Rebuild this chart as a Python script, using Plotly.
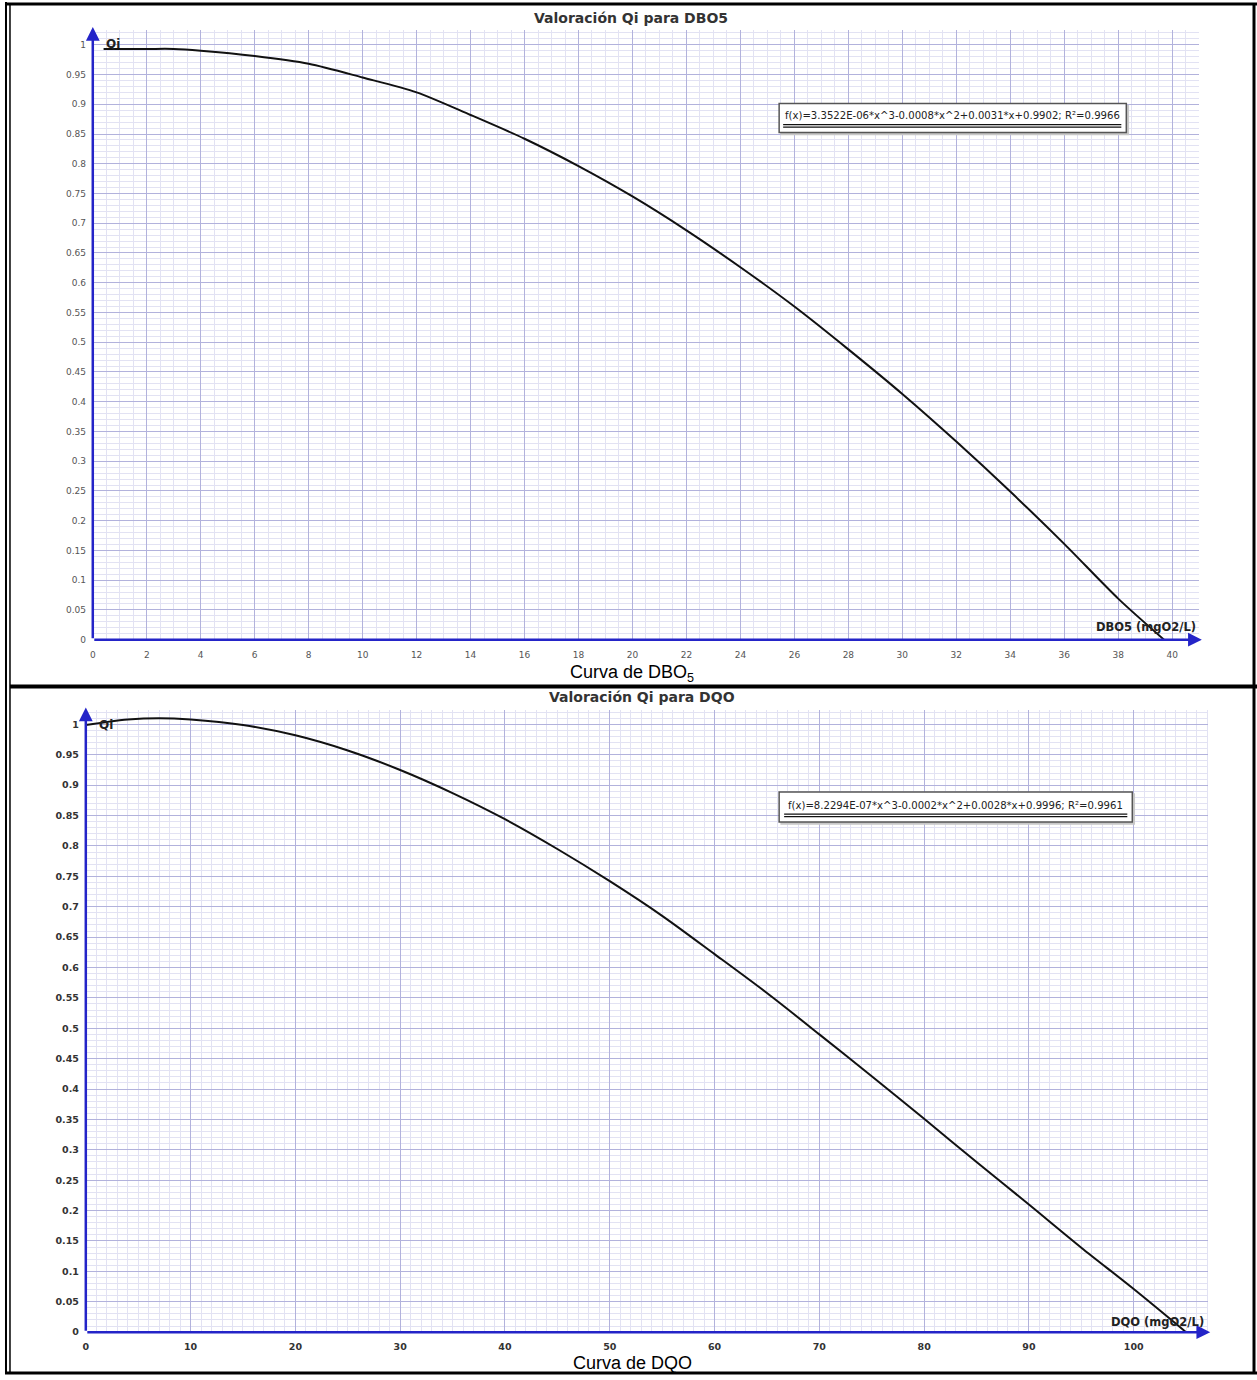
import plotly.graph_objects as go

W, H = 1257, 1380

# Curva de DBO5
dbo_x = [0.4, 2, 3, 4, 6, 8, 10, 12, 14, 16, 18, 20, 22, 24, 26, 28, 30, 32, 34, 36, 38, 39.7]
dbo_qi = [0.993, 0.993, 0.993, 0.99, 0.981, 0.968, 0.945, 0.920, 0.882, 0.842, 0.796, 0.745,
          0.688, 0.626, 0.560, 0.488, 0.413, 0.333, 0.249, 0.161, 0.069, 0.0]

# Curva de DQO
dqo_x = [0, 2, 4, 7, 10, 15, 20, 25, 30, 35, 40, 45, 50, 55, 60, 65, 70, 75, 80, 85, 90, 95, 100, 105]
dqo_qi = [0.999, 1.004, 1.008, 1.010, 1.008, 0.999, 0.982, 0.957, 0.925, 0.887, 0.844, 0.795,
          0.742, 0.685, 0.622, 0.558, 0.490, 0.421, 0.351, 0.280, 0.210, 0.139, 0.071, 0.0]

dbo_ticks = [0, 2, 4, 6, 8, 10, 12, 14, 16, 18, 20, 22, 24, 26, 28, 30, 32, 34, 36, 38, 40]
dqo_ticks = [0, 10, 20, 30, 40, 50, 60, 70, 80, 90, 100]
qi_ticks = [0, 0.05, 0.1, 0.15, 0.2, 0.25, 0.3, 0.35, 0.4, 0.45, 0.5,
            0.55, 0.6, 0.65, 0.7, 0.75, 0.8, 0.85, 0.9, 0.95, 1]
qi_labels = ["0", "0.05", "0.1", "0.15", "0.2", "0.25", "0.3", "0.35", "0.4", "0.45", "0.5",
             "0.55", "0.6", "0.65", "0.7", "0.75", "0.8", "0.85", "0.9", "0.95", "1"]

eq_dbo = "f(x)=3.3522E-06*x^3-0.0008*x^2+0.0031*x+0.9902; R²=0.9966"
eq_dqo = "f(x)=8.2294E-07*x^3-0.0002*x^2+0.0028*x+0.9996; R²=0.9961"


def fx(p):
    return p / W


def fy(p):
    return 1 - p / H


BLUE = "#2424c8"
MAJOR = "#b2b2dc"
MINOR = "#e2e2f3"
FONT = "DejaVu Sans"


def make_axis(dom, rng, vals, text, minor_dt, tfont, tlen, anchor):
    return dict(domain=dom, range=rng, tickmode="array", tickvals=vals, ticktext=text,
                showgrid=True, gridcolor=MAJOR, gridwidth=1,
                minor=dict(tickmode="linear", tick0=0, dtick=minor_dt, showgrid=True,
                           gridcolor=MINOR, gridwidth=1, ticks=""),
                zeroline=False, showline=False, ticks="outside", ticklen=tlen,
                tickcolor="rgba(0,0,0,0)", tickfont=tfont, anchor=anchor, fixedrange=True)


fig = go.Figure()
fig.add_trace(go.Scatter(x=dbo_x, y=dbo_qi, mode="lines", xaxis="x", yaxis="y",
                         line=dict(color="#111111", width=2, shape="spline", smoothing=0.8),
                         showlegend=False, hoverinfo="skip"))
fig.add_trace(go.Scatter(x=dqo_x, y=dqo_qi, mode="lines", xaxis="x2", yaxis="y2",
                         line=dict(color="#111111", width=2, shape="spline", smoothing=0.8),
                         showlegend=False, hoverinfo="skip"))

f1 = dict(family=FONT, size=9, color="#555555")
f2 = dict(family=FONT, size=9.5, color="#333333", weight="bold")

fig.update_layout(
    width=W, height=H, margin=dict(l=0, r=0, t=0, b=0),
    paper_bgcolor="white", plot_bgcolor="white",
    xaxis=make_axis([fx(90), fx(1199)], [0, 41], dbo_ticks, [str(t) for t in dbo_ticks], 0.5, f1, 7, "y"),
    yaxis=make_axis([fy(642), fy(30)], [0, 1.025], qi_ticks, qi_labels, 0.01, f1, 4, "x"),
    xaxis2=make_axis([fx(83), fx(1208)], [0, 107.1], dqo_ticks, [str(t) for t in dqo_ticks], 1, f2, 5, "y2"),
    yaxis2=make_axis([fy(1337), fy(713)], [0, 1.023], qi_ticks, qi_labels, 0.01, f2, 4, "x2"),
)

ann = []
# axis arrows
for xr, yr, xt, yt in [("x", "y", 41.1, 1.03), ("x2", "y2", 107.3, 1.028)]:
    ann.append(dict(x=xt, y=0, ax=0, ay=0, xref=xr, yref=yr, axref=xr, ayref=yr, text="",
                    showarrow=True, arrowhead=2, arrowsize=1.1, arrowwidth=2.5, arrowcolor=BLUE))
    ann.append(dict(x=0, y=yt, ax=0, ay=0, xref=xr, yref=yr, axref=xr, ayref=yr, text="",
                    showarrow=True, arrowhead=2, arrowsize=1.1, arrowwidth=2.5, arrowcolor=BLUE))

bold = dict(family=FONT, color="#222222", weight="bold")


def txt(x, y, s, size, xanchor="center", font=None, color=None):
    f = dict(font or bold)
    f["size"] = size
    if color:
        f["color"] = color
    ann.append(dict(x=fx(x), y=fy(y), xref="paper", yref="paper", text=s, showarrow=False,
                    xanchor=xanchor, yanchor="middle", font=f))


txt(630, 18, "Valoración Qi para DBO5", 14, color="#333333")
txt(641, 700, "Valoración Qi para DQO", 14, color="#333333")
txt(101, 44, "Qi", 12, xanchor="left")
txt(94, 728, "Qi", 12, xanchor="left")
txt(1198, 629, "DBO5 (mgO2/L)", 11.5, xanchor="right")
txt(1206, 1327, "DQO (mgO2/L)", 11.5, xanchor="right")
cap = dict(family="Liberation Sans, Arial", color="#000000")
txt(631, 676, "Curva de DBO<sub>5</sub>", 18, font=cap)
txt(631, 1368, "Curva de DQO", 18, font=cap)
eqf = dict(family=FONT, color="#222222")
txt(952, 116, eq_dbo, 10.1, font=eqf)
txt(955, 808, eq_dqo, 10.1, font=eqf)

shapes = []


def line(x0, y0, x1, y1, w, c="black"):
    shapes.append(dict(type="line", xref="paper", yref="paper", x0=fx(x0), y0=fy(y0),
                       x1=fx(x1), y1=fy(y1), line=dict(color=c, width=w)))


def rect(x0, y0, x1, y1, lc, w, fill):
    shapes.append(dict(type="rect", xref="paper", yref="paper", x0=fx(x0), y0=fy(y0),
                       x1=fx(x1), y1=fy(y1), line=dict(color=lc, width=w), fillcolor=fill,
                       layer="above"))


# equation boxes
for x0, y0, x1, y1 in [(778, 104, 1126, 133), (778, 795, 1132, 825)]:
    rect(x0 + 2, y0 + 2, x1 + 2, y1 + 2, "#c8c8c8", 1.5, "#c8c8c8")
    rect(x0, y0, x1, y1, "#555555", 1.5, "white")
for x0, x1, y in [(782, 1121, 125), (783, 1127, 817)]:
    line(x0, y, x1, y, 1.2, "#111111")
    line(x0, y + 2.5, x1, y + 2.5, 1.2, "#111111")

# table borders
line(3, 2, 3, 1378, 2)
line(7, 4, 7, 1378, 1.5)
line(2, 4, 1257, 4, 3)
line(7, 689, 1257, 689, 4)
line(1254, 4, 1254, 1378, 3)
line(2, 1378, 1257, 1378, 3)

fig.update_layout(annotations=ann, shapes=shapes)
fig.write_html("out.html", config={"displayModeBar": False},
               post_script="document.body.style.margin='0';")
